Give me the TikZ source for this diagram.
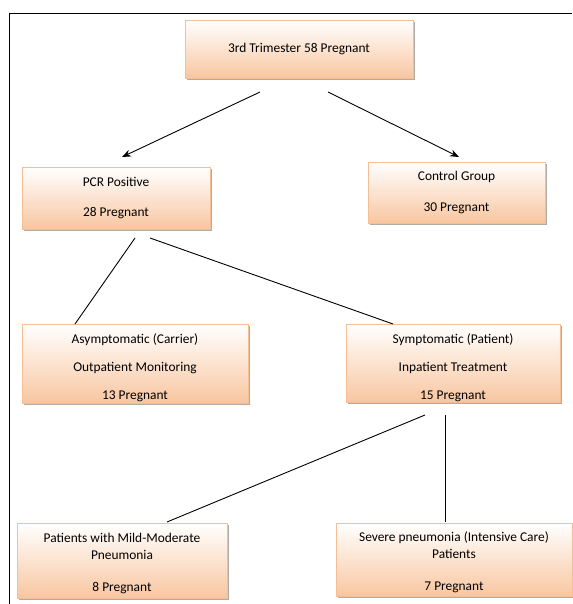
\documentclass[tikz,border=0pt]{standalone}
\usepackage{fontspec}
\setmainfont{Carlito}
\usetikzlibrary{arrows.meta,shadows}
\definecolor{peach}{HTML}{F8C6A0}
\definecolor{peachmid}{HTML}{FCE3D0}
\definecolor{boxline}{HTML}{F6BE94}
\definecolor{shadowc}{HTML}{A8A29C}
\tikzset{
  flowbox/.style={rectangle, draw=boxline, line width=0.8pt,
    top color=white, bottom color=peach, middle color=peachmid,
    drop shadow={shadow xshift=2pt, shadow yshift=-2pt, fill=shadowc, opacity=0.9},
    align=center, inner sep=0pt, font=\fontsize{13.4}{16}\selectfont},
  conn/.style={draw=black, line width=0.9pt},
  arrowconn/.style={conn, -{Stealth[length=9pt,width=7pt]}}
}
\begin{document}
\begin{tikzpicture}[x=1pt,y=-1pt]
\useasboundingbox (0,0) rectangle (572,604);
% frame
\draw[line width=0.9pt] (9.5,604) -- (9.5,13) -- (572,13);

\node[flowbox, minimum width=228pt, minimum height=58pt] (top) at (299,49)
  {3rd Trimester 58 Pregnant};
\node[flowbox, minimum width=188pt, minimum height=62pt] (pcr) at (116,198)
  {PCR Positive\\[14pt]28 Pregnant};
\node[flowbox, minimum width=177pt, minimum height=61pt] (ctrl) at (456.5,192.5)
  {Control Group\\[15pt]30 Pregnant};
\node[flowbox, minimum width=226pt, minimum height=79pt] (asym) at (135,363.5)
  {\parbox{210pt}{\vspace*{9pt}\centering Asymptomatic (Carrier)\\[12pt]Outpatient Monitoring\\[12pt]13 Pregnant}};
\node[flowbox, minimum width=214pt, minimum height=78pt] (symp) at (453,363)
  {\parbox{210pt}{\vspace*{9pt}\centering Symptomatic (Patient)\\[12pt]Inpatient Treatment\\[12pt]15 Pregnant}};
\node[flowbox, minimum width=210pt, minimum height=75pt] (mild) at (122,560.5)
  {\parbox{205pt}{\vspace*{5pt}\centering Patients with Mild-Moderate\\[1pt]Pneumonia\\[16pt]8 Pregnant}};
\node[flowbox, minimum width=236pt, minimum height=73pt] (sev) at (454,559.5)
  {\parbox{230pt}{\vspace*{6pt}\centering Severe pneumonia (Intensive Care)\\[1pt]Patients\\[16pt]7 Pregnant}};

% connector end points
\coordinate (t1) at (260,92);
\coordinate (t2) at (328,92);
\coordinate (p1) at (122,157);
\coordinate (c1) at (459,157);
\coordinate (pa) at (135,238);
\coordinate (pb) at (150,238);
\coordinate (as) at (75,324);
\coordinate (sy) at (393,324);
\coordinate (sa) at (425,415);
\coordinate (sb) at (445,415);
\coordinate (mi) at (167,522);
\coordinate (se) at (445,522);

\draw[arrowconn] (t1) -- (p1);
\draw[arrowconn] (t2) -- (c1);
\draw[conn] (pa) -- (as);
\draw[conn] (pb) -- (sy);
\draw[conn] (sa) -- (mi);
\draw[conn] (sb) -- (se);
\end{tikzpicture}
\end{document}
